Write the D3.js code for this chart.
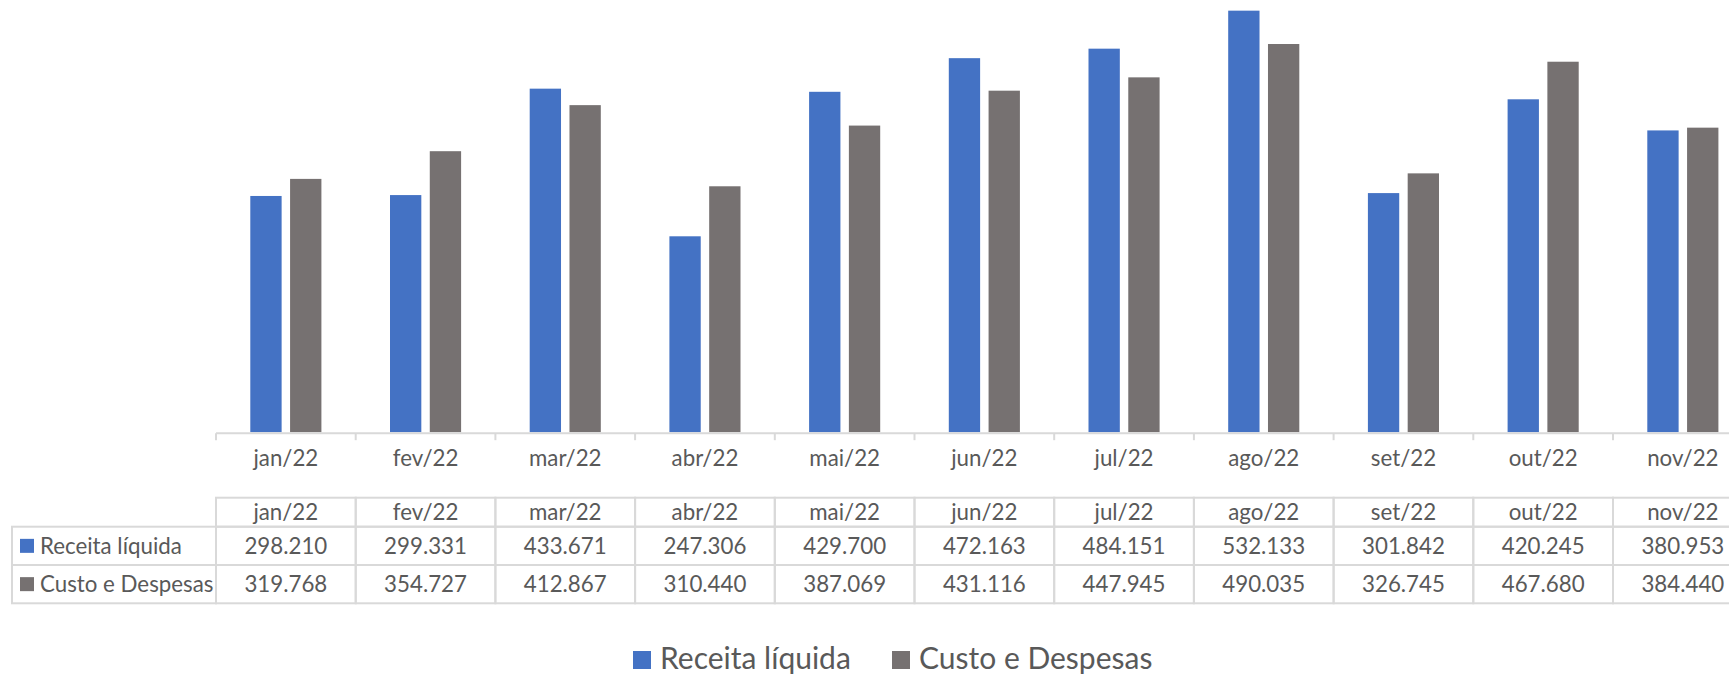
<!DOCTYPE html>
<html>
<head>
<meta charset="utf-8">
<script src="https://cdn.jsdelivr.net/npm/d3@7"></script>
<style>
	html, body { margin: 0; padding: 0; background: #fff; overflow: hidden; }
	text { font-family: Lato, 'Open Sans', sans-serif; fill: #595959; }
</style>
</head>
<body>
<div id="chart"></div>
<script>
// Data
var months = ['jan/22', 'fev/22', 'mar/22', 'abr/22', 'mai/22', 'jun/22', 'jul/22', 'ago/22', 'set/22', 'out/22', 'nov/22'];
var receita = [298.210, 299.331, 433.671, 247.306, 429.700, 472.163, 484.151, 532.133, 301.842, 420.245, 380.953];
var custo = [319.768, 354.727, 412.867, 310.440, 387.069, 431.116, 447.945, 490.035, 326.745, 467.680, 384.440];
var series_names = ['Receita líquida', 'Custo e Despesas'];
var series_colors = ['#4472C4', '#767171'];

var total_width = 1729;
var total_height = 674;
var plot = {
	left: 216,
	step: 139.7,
	base: 432.2,
	top: -43.1
};
var line_color = '#d9d9d9';
var font_size = 22.3;

var series = [receita, custo];

var svg = d3.select('#chart')
	.append('svg')
	.attr('width', total_width)
	.attr('height', total_height);

// Scales
var x = d3.scaleBand()
	.domain(months)
	.range([plot.left, plot.left + plot.step * months.length]);

// Excel style: gap width 219%, overlap -27%
var bar_w = plot.step / (2 + 0.27 + 2.19);
var x_inner = d3.scaleBand()
	.domain(d3.range(series.length))
	.range([bar_w * 2.19 / 2, plot.step - bar_w * 2.19 / 2])
	.paddingInner(0.27 / 1.27);

var y = d3.scaleLinear()
	.domain([0, 600])
	.range([plot.base, plot.top]);

// Bars
var groups = svg.selectAll('.grp')
	.data(months)
	.enter()
	.append('g')
	.attr('class', 'grp')
	.attr('transform', function(d) { return 'translate(' + x(d) + ',0)'; });

groups.selectAll('rect')
	.data(function(d, i) {
		return series.map(function(s, k) { return {k: k, v: s[i]}; });
	})
	.enter()
	.append('rect')
	.attr('x', function(d) { return x_inner(d.k); })
	.attr('y', function(d) { return y(d.v); })
	.attr('width', x_inner.bandwidth())
	.attr('height', function(d) { return y(0) - y(d.v); })
	.attr('fill', function(d) { return series_colors[d.k]; });

// Category axis (labels only)
var axis_g = svg.append('g')
	.attr('transform', 'translate(0,' + (plot.base + 1) + ')')
	.call(d3.axisBottom(x).tickSize(0).tickPadding(17));
axis_g.select('.domain').remove();
axis_g.selectAll('text')
	.attr('font-size', font_size)
	.attr('font-family', 'Lato')
	.attr('fill', '#595959');

// Axis line and boundary ticks
svg.append('line')
	.attr('x1', plot.left)
	.attr('x2', total_width)
	.attr('y1', plot.base + 1)
	.attr('y2', plot.base + 1)
	.attr('stroke', line_color)
	.attr('stroke-width', 2);

var bounds = months.map(function(m) { return x(m); }).concat([x.range()[1]]);
svg.selectAll('.tick_b')
	.data(bounds)
	.enter()
	.append('line')
	.attr('class', 'tick_b')
	.attr('x1', function(d) { return d; })
	.attr('x2', function(d) { return d; })
	.attr('y1', plot.base + 1)
	.attr('y2', plot.base + 8)
	.attr('stroke', line_color)
	.attr('stroke-width', 2);

// Data table
var table = {
	left: 12,
	head_top: 497.7,
	head_h: 29,
	row_h: 38.3
};
var row_top = table.head_top + table.head_h;
var table_g = svg.append('g');

// header row
table_g.selectAll('.head_cell')
	.data(months)
	.enter()
	.append('rect')
	.attr('class', 'head_cell')
	.attr('x', function(d) { return x(d); })
	.attr('y', table.head_top)
	.attr('width', x.bandwidth())
	.attr('height', table.head_h)
	.attr('fill', 'none')
	.attr('stroke', line_color)
	.attr('stroke-width', 2);

table_g.selectAll('.head_text')
	.data(months)
	.enter()
	.append('text')
	.attr('class', 'head_text')
	.attr('x', function(d) { return x(d) + x.bandwidth() / 2; })
	.attr('y', table.head_top + table.head_h / 2)
	.attr('dy', '0.35em')
	.attr('text-anchor', 'middle')
	.attr('font-size', font_size)
	.text(function(d) { return d; });

// series rows
var fmt = d3.format('.3f');
series.forEach(function(s, k) {
	var ry = row_top + k * table.row_h;
	var row = table_g.append('g');

	row.append('rect')
		.attr('x', table.left)
		.attr('y', ry)
		.attr('width', plot.left - table.left)
		.attr('height', table.row_h)
		.attr('fill', 'none')
		.attr('stroke', line_color)
		.attr('stroke-width', 2);

	row.append('rect')
		.attr('x', table.left + 8)
		.attr('y', ry + table.row_h / 2 - 7)
		.attr('width', 14)
		.attr('height', 14)
		.attr('fill', series_colors[k]);

	row.append('text')
		.attr('x', table.left + 28)
		.attr('y', ry + table.row_h / 2)
		.attr('dy', '0.35em')
		.attr('font-size', font_size)
		.text(series_names[k]);

	row.selectAll('.cell')
		.data(s)
		.enter()
		.append('rect')
		.attr('x', function(d, i) { return x(months[i]); })
		.attr('y', ry)
		.attr('width', x.bandwidth())
		.attr('height', table.row_h)
		.attr('fill', 'none')
		.attr('stroke', line_color)
		.attr('stroke-width', 2);

	row.selectAll('.val')
		.data(s)
		.enter()
		.append('text')
		.attr('x', function(d, i) { return x(months[i]) + x.bandwidth() / 2; })
		.attr('y', ry + table.row_h / 2)
		.attr('dy', '0.35em')
		.attr('text-anchor', 'middle')
		.attr('font-size', font_size)
		.text(function(d) { return fmt(d); });
});

// Legend
var legend_x = [633, 892];
var legend = svg.selectAll('.legend')
	.data(series_names)
	.enter()
	.append('g')
	.attr('class', 'legend')
	.attr('transform', function(d, i) { return 'translate(' + legend_x[i] + ',651)'; });

legend.append('rect')
	.attr('width', 18)
	.attr('height', 18)
	.attr('fill', function(d, i) { return series_colors[i]; });

legend.append('text')
	.attr('x', 27)
	.attr('y', 17.5)
	.attr('font-size', 30)
	.text(function(d) { return d; });
</script>
</body>
</html>
